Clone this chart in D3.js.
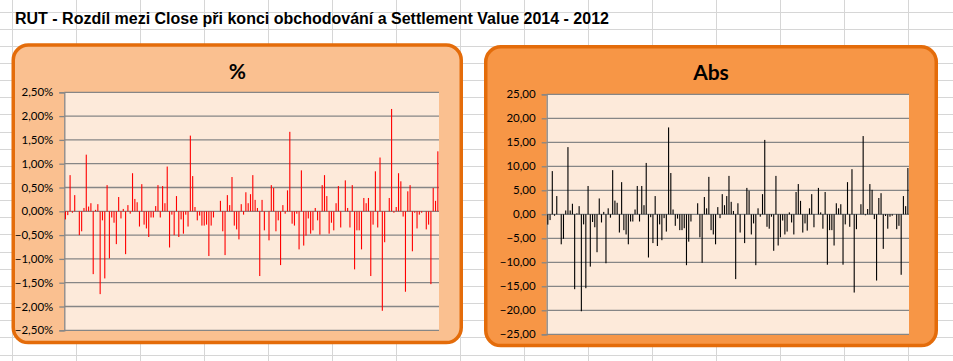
<!DOCTYPE html>
<html><head><meta charset="utf-8">
<script src="https://cdn.jsdelivr.net/npm/d3@7"></script>
<style>body{margin:0;background:#fff}svg{display:block}</style>
</head><body>
<svg id="chart" width="953" height="361"></svg>
<script>
const chartTitle = "RUT - Rozdíl mezi Close při konci obchodování a Settlement Value 2014 - 2012";
const panelTitles = ["%", "Abs"];

// percentage difference per expiration (in %)
const pctValues = [
 -0.17,-0.08,0.76,-0.03,0.34,0,-0.50,-0.42,0.07,1.19,
 0.10,0.17,-1.32,0.03,0.15,-1.74,-0.19,-1.41,0.55,-0.99,
 -0.13,-0.24,-0.69,0.30,-0.15,0.05,-0.90,0.13,-0.05,0.80,
 0.26,0.19,-0.32,0.57,-0.28,-0.36,-0.54,-0.13,-0.13,0.11,
 0.55,-0.13,0.53,0.17,0.94,-0.76,-0.07,-0.50,0.32,-0.54,
 -0.17,-0.47,-0.07,-0.32,1.59,0.74,0.09,-0.19,-0.09,-0.30,
 -0.30,-0.28,-0.94,-0.30,-0.13,0,0,0.22,-0.42,-0.92,
 0.34,0.13,0.72,-0.30,-0.38,-0.59,0.15,-0.07,0.40,0.17,
 0.36,0.76,0.24,0.07,-1.36,0.24,-0.40,0,-0.61,0.55,
 0.49,-0.42,-0.19,-1.13,0.13,-0.05,0.44,1.67,-0.26,-0.30,
 -0.05,-0.80,0.86,-0.72,-0.51,-0.15,-0.47,-0.40,0.07,-0.19,
 -0.49,0.55,0.76,0.32,-0.47,-0.24,-0.40,0.17,0.53,-0.34,
 0,0.65,0.07,-0.34,0.55,-1.22,-0.40,-0.40,-0.80,0.28,
 0.17,0.28,-1.36,-0.28,0.84,-0.34,1.13,-2.09,-0.65,0,
 0.28,2.15,-0.03,0.09,0.80,0.63,-0.11,-1.69,0.42,0.55,
 -0.84,-0.03,-0.36,-0.07,-0.03,0,-0.38,-0.28,-1.53,0.49,
 0.22,1.26
];

// absolute difference in index points
const absValues = [
 -2.15,-1.2,9.0,-0.3,3.8,0,-6.25,-5.1,0.8,14.0,
 0.8,2.2,-15.6,0.2,1.7,-20.2,-2.1,-15.4,5.9,-10.9,
 -1.6,-2.7,-7.9,3.3,-1.7,0.5,-10.2,1.25,-0.7,9.2,
 2.85,2.4,-3.8,6.7,-3.3,-4.2,-6.25,-1.5,-1.5,1.0,
 5.9,-1.5,5.9,1.9,10.7,-9.0,-0.6,-6.0,3.8,-6.6,
 -2.1,-5.4,-0.8,-3.6,18.1,8.6,1.0,-2.4,-0.9,-3.3,
 -3.3,-2.9,-10.6,-5.7,-1.5,0,0,2.3,-4.8,-10.1,
 3.6,1.25,7.8,-3.3,-4.2,-6.25,1.5,-0.8,4.2,1.9,
 3.8,8.0,2.6,0.7,-13.5,2.3,-3.8,0,-6.0,5.5,
 4.9,-4.2,-1.9,-10.6,1.25,-0.5,4.2,15.5,-2.6,-3.0,
 -0.5,-7.6,8.0,-6.5,-4.8,-1.3,-4.2,-3.6,0.4,-1.7,
 -4.2,4.65,6.3,2.8,-3.8,-1.9,-3.4,1.25,4.2,-2.7,
 0,5.5,0.4,-3.0,4.65,-10.5,-3.3,-3.3,-6.5,2.3,
 1.25,2.1,-10.5,-2.1,6.7,-2.6,9.4,-16.3,-3.1,0,
 2.1,16.3,-0.2,1.1,6.3,5.1,-1.0,-13.8,3.4,4.4,
 -7.2,-0.35,-3.0,-0.5,-0.3,0,-3.1,-2.4,-12.6,3.8,
 1.7,9.65
];

const categories = d3.range(1, pctValues.length + 1);
const pctTicks = [2.5, 2, 1.5, 1, 0.5, 0, -0.5, -1, -1.5, -2, -2.5];
const absTicks = [25, 20, 15, 10, 5, 0, -5, -10, -15, -20, -25];

const svg = d3.select("#chart");
const W = 953, H = 361;

// spreadsheet grid background
const gridG = svg.append("g");
const colLines = d3.range(11.5, W, 64);
const rowLines = d3.range(11.5, H, 17.15);
gridG.selectAll("line.c").data(colLines).join("line")
  .attr("x1", d => Math.round(d) + 0.5).attr("x2", d => Math.round(d) + 0.5)
  .attr("y1", 0).attr("y2", H).attr("stroke", "#d6d6d6").attr("stroke-width", 1);
gridG.selectAll("line.r").data(rowLines).join("line")
  .attr("y1", d => Math.round(d) + 0.5).attr("y2", d => Math.round(d) + 0.5)
  .attr("x1", 0).attr("x2", W).attr("stroke", "#d6d6d6").attr("stroke-width", 1);

// main title
svg.append("text").attr("x", 15).attr("y", 24)
  .attr("font-family", "'Liberation Sans Narrow','Liberation Sans',Arial,sans-serif")
  .attr("font-weight", "bold").attr("font-size", 16).attr("fill", "#000")
  .text(chartTitle);

const fmtPct = d => d3.format(".2f")(d).replace(".", ",") + "%";
const fmtAbs = d => d3.format(".2f")(d).replace(".", ",");

function panel(cfg) {
  const g = svg.append("g");
  g.append("rect").attr("x", cfg.px).attr("y", cfg.py).attr("width", cfg.pw).attr("height", cfg.ph)
    .attr("rx", 15).attr("ry", 15)
    .attr("fill", cfg.fill).attr("stroke", "#E46C0A").attr("stroke-width", 3.5);
  g.append("text").attr("x", cfg.px + cfg.pw / 2 + cfg.titleDx).attr("y", cfg.titleY)
    .attr("text-anchor", "middle").attr("font-family", "Lato, 'Open Sans', sans-serif")
    .attr("font-weight", "bold").attr("font-size", 21).attr("fill", "#000").text(cfg.title);

  const x = d3.scaleBand().domain(categories).range([cfg.x0, cfg.x1]);
  const y = d3.scaleLinear().domain([cfg.ticks[cfg.ticks.length - 1], cfg.ticks[0]]).range([cfg.y1, cfg.y0]);

  g.append("rect").attr("x", cfg.x0).attr("y", cfg.y0).attr("width", cfg.x1 - cfg.x0).attr("height", cfg.y1 - cfg.y0)
    .attr("fill", "#FDEADA");

  g.selectAll("line.grid").data(cfg.ticks).join("line")
    .attr("x1", cfg.x0).attr("x2", cfg.x1)
    .attr("y1", d => y(d)).attr("y2", d => y(d))
    .attr("stroke", "#868686").attr("stroke-width", 1.3);

  const axis = d3.axisLeft(y).tickValues(cfg.ticks).tickFormat(cfg.fmt).tickSize(5).tickPadding(6);
  const ag = g.append("g").attr("transform", `translate(${cfg.x0},0)`).call(axis);
  ag.select(".domain").attr("stroke", "#868686").attr("stroke-width", 1.3);
  ag.selectAll(".tick line").attr("stroke", "#868686").attr("stroke-width", 1.3);
  ag.selectAll(".tick text").attr("font-family", "Lato, 'Open Sans', sans-serif")
    .attr("font-size", 11.5).attr("fill", "#000");

  const bw = 1.1;
  g.selectAll("rect.bar").data(cfg.values).join("rect").attr("class", "bar")
    .attr("x", (d, i) => x(categories[i]) + x.bandwidth() / 2 - bw / 2)
    .attr("width", bw)
    .attr("y", d => y(Math.max(0, d)))
    .attr("height", d => Math.abs(y(d) - y(0)))
    .attr("fill", cfg.barColor);
}

panel({
  px: 13.25, py: 45, pw: 448, ph: 297.6, fill: "#FAC090", title: panelTitles[0], titleDx: 0, titleY: 79,
  x0: 64.3, x1: 439, y0: 92.3, y1: 330.3, ticks: pctTicks, fmt: fmtPct, values: pctValues, barColor: "#FF0000"
});
panel({
  px: 485.75, py: 46.75, pw: 450.5, ph: 298.8, fill: "#F79646", title: panelTitles[1], titleDx: 0, titleY: 80,
  x0: 546.7, x1: 909, y0: 94.3, y1: 334.3, ticks: absTicks, fmt: fmtAbs, values: absValues, barColor: "#000000"
});
</script>
</body></html>
